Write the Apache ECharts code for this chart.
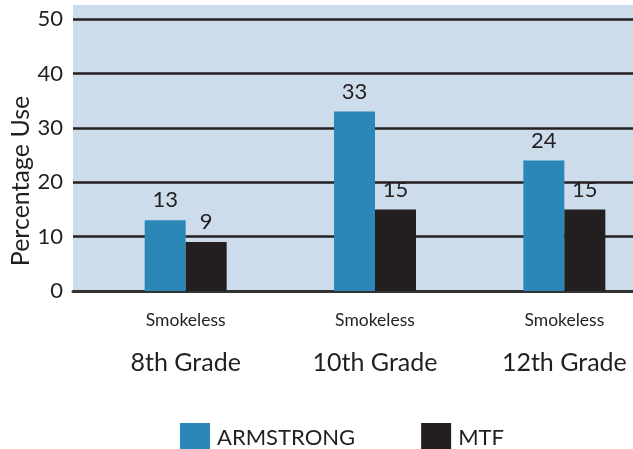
<!DOCTYPE html>
<html>
<head>
<meta charset="utf-8">
<script src="https://cdn.jsdelivr.net/npm/echarts@6/dist/echarts.min.js"></script>
<style>
  html, body { margin: 0; padding: 0; background: #fff; }
  #chart { width: 633px; height: 449px; }
</style>
</head>
<body>
<div id="chart"></div>
<script>
// 数据
const substance = 'Smokeless';
const grades = ['8th Grade', '10th Grade', '12th Grade'];
const seriesNames = ['ARMSTRONG', 'MTF'];
const armstrong = [13, 33, 24];
const mtf = [9, 15, 15];
const yTicks = [0, 10, 20, 30, 40, 50];

const FONT = 'Lato';
const TEXT = '#231f20';
const yMax = 52.6; // 背景略高于 50 刻度线

const chart = echarts.init(document.getElementById('chart'));

const option = {
  animation: false,
  textStyle: { fontFamily: FONT, color: TEXT },
  grid: [
    // 背景 + 网格线
    { left: 73, right: 0, top: 5, bottom: 158, show: true, backgroundColor: '#cddcea', borderWidth: 0, outerBoundsMode: 'none' },
    // 柱子（右侧超出画布）
    { left: 91, width: 568, top: 5, bottom: 158, outerBoundsMode: 'none' }
  ],
  legend: {
    data: seriesNames,
    left: 175,
    top: 418,
    itemWidth: 30,
    itemHeight: 30,
    itemGap: 66,
    icon: 'rect',
    textStyle: { fontFamily: FONT, fontSize: 22, color: TEXT, padding: [0, 0, 0, 2] }
  },
  graphic: [{
    type: 'text',
    x: 21,
    y: 181,
    rotation: Math.PI / 2,
    style: {
      text: 'Percentage Use',
      font: '25px ' + FONT,
      fill: TEXT,
      textAlign: 'center',
      textVerticalAlign: 'middle'
    }
  }],
  xAxis: [
    {
      gridIndex: 0, type: 'value', min: 0, max: 1,
      axisLabel: { show: false }, axisTick: { show: false }, splitLine: { show: false },
      axisLine: { show: true, lineStyle: { color: '#333', width: 3 } }
    },
    {
      gridIndex: 1, type: 'category', data: grades,
      axisLine: { show: false }, axisTick: { show: false },
      axisLabel: {
        margin: 14,
        formatter: g => '{a|' + substance + '}\n{b|' + g + '}',
        rich: {
          a: { fontFamily: FONT, fontSize: 17.5, color: TEXT, lineHeight: 30 },
          b: { fontFamily: FONT, fontSize: 25, color: TEXT, lineHeight: 56 }
        }
      }
    }
  ],
  yAxis: [
    {
      gridIndex: 0, type: 'value', min: yTicks[0], max: yMax, interval: 10,
      axisLine: { show: false }, axisTick: { show: false },
      axisLabel: {
        showMaxLabel: false, margin: 10, fontFamily: FONT, fontSize: 22, color: TEXT,
        formatter: v => (yTicks.includes(v) ? String(v) : '')
      },
      splitLine: { show: true, showMinLine: false, showMaxLine: false, lineStyle: { color: TEXT, width: 2.5 } }
    },
    {
      gridIndex: 1, type: 'value', min: 0, max: yMax, show: false, splitLine: { show: false }
    }
  ],
  series: [
    {
      name: seriesNames[0], type: 'bar', xAxisIndex: 1, yAxisIndex: 1,
      data: armstrong, barWidth: 41, barGap: '0%',
      itemStyle: { color: '#2b87b7' },
      label: { show: true, position: 'top', distance: 9, fontFamily: FONT, fontSize: 22, color: TEXT }
    },
    {
      name: seriesNames[1], type: 'bar', xAxisIndex: 1, yAxisIndex: 1,
      data: mtf, barWidth: 41, barGap: '0%',
      itemStyle: { color: '#231f20' },
      label: { show: true, position: 'top', distance: 9, fontFamily: FONT, fontSize: 22, color: TEXT }
    }
  ]
};

chart.setOption(option);
</script>
</body>
</html>
